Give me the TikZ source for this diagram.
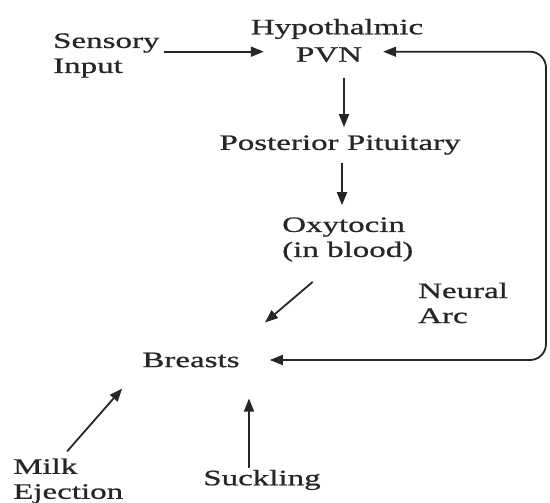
\documentclass[tikz,border=0pt]{standalone}
\usepackage{fontspec}
\setmainfont{Liberation Serif}[FakeStretch=1.5,FakeBold=0.8]
\usepackage{tikz}
\usetikzlibrary{arrows.meta}

\begin{document}
\begin{tikzpicture}[
    x=1pt, y=-1pt,
    >={Triangle[length=13pt,width=10pt]},
    every node/.style={font=\fontsize{22}{25}\selectfont, inner sep=2pt, text=black!85},
    flow/.style={->, line width=1.8pt, black!85},
  ]
  \useasboundingbox (0,0) rectangle (550,503);

  % -- the chain from the hypothalamus down --
  \node (hyp)  at (337,29)   {Hypothalmic};
  \node (pvn)  at (329,54.7) {PVN};
  \node[anchor=west,align=left] (sens) at (51,55.5)  {Sensory\\Input};
  \node (post) at (340,145)  {Posterior Pituitary};
  \node[anchor=west,align=left] (oxy)  at (280,239.5) {Oxytocin\\(in blood)};
  \node[anchor=west,align=left] (arc)  at (416,303)   {Neural\\Arc};
  \node (brs)  at (191,360)  {Breasts};

  % -- what acts on the breasts from below --
  \node[anchor=west,align=left] (milk) at (11,481) {Milk\\Ejection};
  \node (suck) at (262,480)  {Suckling};

  \coordinate (loop) at (546,200);

  % -- arrows --
  \draw[flow, shorten <=2pt, shorten >=30pt]
       ([yshift=3pt]pvn.west -| sens.east) -- ([yshift=3pt]pvn.west);
  \draw[flow, shorten <=14pt, shorten >=6pt]
       ([xshift=4pt]post.north |- pvn.south) -- ([xshift=4pt]post.north);
  \draw[flow, shorten <=6pt, shorten >=10pt]
       ([xshift=2pt]post.south) -- ([xshift=2pt]post.south |- oxy.north);
  \draw[flow] ([shift={(-35,18)}]oxy.south) -- ([shift={(74,-28)}]brs.north);

  % -- the neural arc back to PVN and to the breasts --
  \draw[flow, <->, rounded corners=16pt, shorten <=19pt, shorten >=28pt]
       ([yshift=3pt]pvn.east) -| (loop) |- (brs.east);

  \draw[flow] ([shift={(-1,-5)}]milk.north) -- ([shift={(-18,19)}]brs.south west);
  \draw[flow, shorten >=29pt]
       ([xshift=-13pt]suck.north) -- ([xshift=-13pt]suck.north |- brs.south);
\end{tikzpicture}
\end{document}
